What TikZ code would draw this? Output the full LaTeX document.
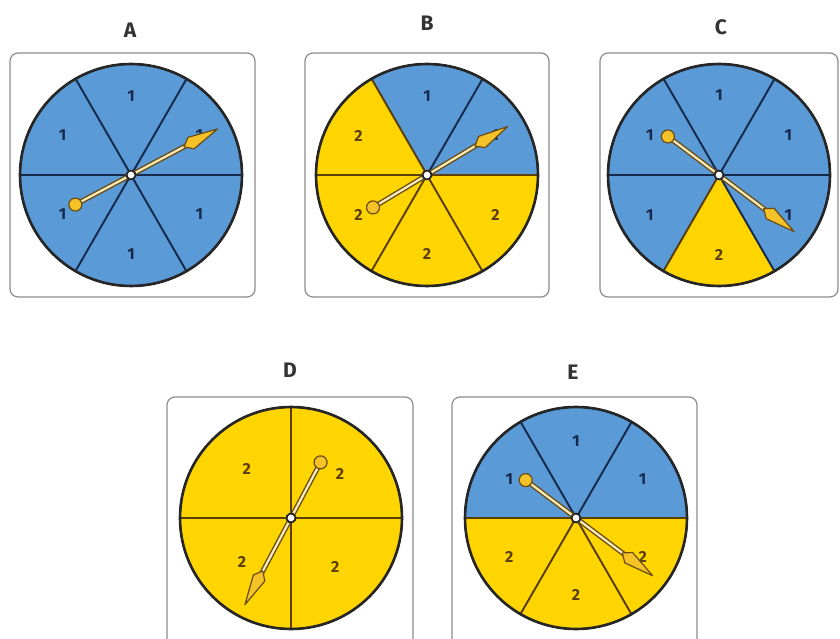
\documentclass[tikz,border=0pt]{standalone}
\usepackage{fontspec}
\setmainfont{Fira Sans}
\definecolor{spinblue}{RGB}{90,154,214}
\definecolor{spinyellow}{RGB}{255,213,0}
\definecolor{blueline}{RGB}{22,42,78}
\definecolor{yellowline}{RGB}{92,62,8}
\definecolor{pinfill}{RGB}{245,195,40}
\definecolor{pinline}{RGB}{105,75,20}
\definecolor{pincream}{RGB}{250,235,185}

% needle: centre, angle, tip length, tail length
\newcommand{\needle}[4]{%
  \begin{scope}[shift={#1},rotate=#2]
    \draw[line width=5pt,pinline] (-#4,0) -- (#3-30,0);
    \draw[line width=2.2pt,pincream] (-#4,0) -- (#3-30,0);
    \draw[pinline,fill=pinfill,line width=1.2pt] (-#4,0) circle (6.5);
    \draw[pinline,fill=pinfill,line width=1.2pt,line join=round] (#3-38,0) -- (#3-30,6.5) -- (#3,0) -- (#3-30,-6.5) -- cycle;
    \draw[black!85,fill=white,line width=1.8pt] (0,0) circle (4.5);
  \end{scope}}

\begin{document}
\begin{tikzpicture}[x=1pt,y=1pt,
  card/.style={draw=black!45,line width=1.2pt,rounded corners=8pt},
  rim/.style={draw=black!85,line width=2.6pt},
  secb/.style={fill=spinblue,draw=blueline,line width=1.8pt},
  secy/.style={fill=spinyellow,draw=yellowline,line width=1.8pt},
  numb/.style={text=blueline,font=\bfseries\fontsize{16}{16}\selectfont},
  numy/.style={text=yellowline,font=\bfseries\fontsize{16}{16}\selectfont},
  title/.style={text=black!80,font=\bfseries\fontsize{21}{21}\selectfont}]
  \useasboundingbox (0,0) rectangle (840,638);

  % spinner A
  \node[title] (tA) at (130,608) {A};
  \draw[card] (10,341) rectangle (255,585);
  \coordinate (cA) at (131,463);
  \foreach \a/\s/\n in {0/b/1,60/b/1,120/b/1,180/b/1,240/b/1,300/b/1}
    \draw[sec\s] (cA) -- ++(\a:111) arc[start angle=\a,delta angle=60,radius=111] -- cycle
      (cA) ++(\a+30:79) node[num\s] (nA\a) {\n};
  \draw[rim] (cA) circle (111);
  \needle{(cA)}{28}{98}{63}

  % spinner B
  \node[title] (tB) at (427,615) {B};
  \draw[card] (305,341) rectangle (549,585);
  \coordinate (cB) at (427,463);
  \foreach \a/\s/\n in {0/b/1,60/b/1,120/y/2,180/y/2,240/y/2,300/y/2}
    \draw[sec\s] (cB) -- ++(\a:111) arc[start angle=\a,delta angle=60,radius=111] -- cycle
      (cB) ++(\a+30:79) node[num\s] (nB\a) {\n};
  \draw[rim] (cB) circle (111);
  \needle{(cB)}{31}{94}{63}

  % spinner C
  \node[title] (tC) at (721,611) {C};
  \draw[card] (600,341) rectangle (838,585);
  \coordinate (cC) at (719,463);
  \foreach \a/\s/\n in {0/b/1,60/b/1,120/b/1,180/b/1,240/y/2,300/b/1}
    \draw[sec\s] (cC) -- ++(\a:111) arc[start angle=\a,delta angle=60,radius=111] -- cycle
      (cC) ++(\a+30:80) node[num\s] (nC\a) {\n};
  \draw[rim] (cC) circle (111);
  \needle{(cC)}{-37}{94}{64}

  % spinner D
  \node[title] (tD) at (290,268) {D};
  \draw[card] (167,-10) rectangle (413,241);
  \coordinate (cD) at (291,120);
  \foreach \a/\s/\n in {0/y/2,90/y/2,180/y/2,270/y/2}
    \draw[sec\s] (cD) -- ++(\a:111) arc[start angle=\a,delta angle=90,radius=111] -- cycle
      (cD) ++(\a+42:66) node[num\s] (nD\a) {\n};
  \draw[rim] (cD) circle (111);
  \needle{(cD)}{242}{98}{63}

  % spinner E
  \node[title] (tE) at (573,266) {E};
  \draw[card] (452,-10) rectangle (697,241);
  \coordinate (cE) at (576,120);
  \foreach \a/\s/\n in {0/b/1,60/b/1,120/b/1,180/y/2,240/y/2,300/y/2}
    \draw[sec\s] (cE) -- ++(\a:111) arc[start angle=\a,delta angle=60,radius=111] -- cycle
      (cE) ++(\a+30:77) node[num\s] (nE\a) {\n};
  \draw[rim] (cE) circle (111);
  \needle{(cE)}{-37}{96}{63}
\end{tikzpicture}
\end{document}
